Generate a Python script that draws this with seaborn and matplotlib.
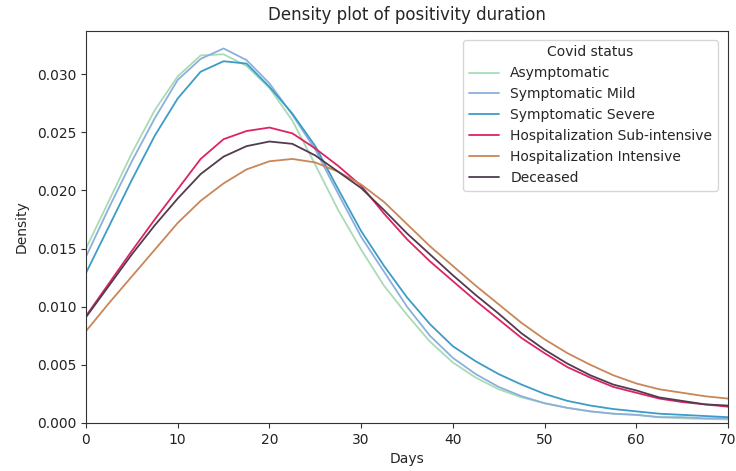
import numpy as np
import pandas as pd
import matplotlib
matplotlib.use("Agg")
import matplotlib.pyplot as plt
import seaborn as sns

days = [0, 2.5, 5, 7.5, 10, 12.5, 15, 17.5, 20, 22.5, 25, 27.5, 30, 32.5, 35,
        37.5, 40, 42.5, 45, 47.5, 50, 52.5, 55, 57.5, 60, 62.5, 65, 67.5, 70]

asymptomatic = [0.0150, 0.0191, 0.0232, 0.0269, 0.0298, 0.0316, 0.0317, 0.0307, 0.0288,
                0.0260, 0.0222, 0.0183, 0.0149, 0.0118, 0.0093, 0.0070, 0.0052, 0.0039,
                0.0029, 0.0022, 0.0017, 0.0013, 0.0010, 0.0008, 0.0007, 0.0005, 0.0004,
                0.00035, 0.0003]
symptomatic_mild = [0.0143, 0.0185, 0.0225, 0.0262, 0.0295, 0.0313, 0.0322, 0.0312, 0.0292,
                    0.0265, 0.0235, 0.0197, 0.0160, 0.0130, 0.0100, 0.0075, 0.0056, 0.0042,
                    0.0031, 0.0023, 0.0017, 0.0013, 0.0010, 0.0008, 0.0007, 0.0005, 0.0005,
                    0.0004, 0.0004]
symptomatic_severe = [0.0129, 0.0169, 0.0209, 0.0247, 0.0279, 0.0302, 0.0311, 0.0309, 0.0289,
                      0.0266, 0.0238, 0.0201, 0.0165, 0.0135, 0.0108, 0.0085, 0.0066, 0.0053,
                      0.0042, 0.0033, 0.0025, 0.0019, 0.0015, 0.0012, 0.0010, 0.0008, 0.0007,
                      0.0006, 0.0005]
hosp_sub_intensive = [0.0092, 0.0120, 0.0148, 0.0175, 0.0201, 0.0227, 0.0244, 0.0251, 0.0254,
                      0.0249, 0.0236, 0.0221, 0.0204, 0.0180, 0.0158, 0.0139, 0.0122, 0.0105,
                      0.0089, 0.0073, 0.0060, 0.0048, 0.0039, 0.0031, 0.0026, 0.0021, 0.0018,
                      0.0016, 0.0014]
hosp_intensive = [0.0079, 0.0103, 0.0126, 0.0149, 0.0172, 0.0191, 0.0206, 0.0218, 0.0225,
                  0.0227, 0.0224, 0.0216, 0.0205, 0.0190, 0.0171, 0.0152, 0.0135, 0.0118,
                  0.0102, 0.0086, 0.0072, 0.0060, 0.0050, 0.0041, 0.0034, 0.0029, 0.0026,
                  0.0023, 0.0021]
deceased = [0.0091, 0.0118, 0.0145, 0.0170, 0.0193, 0.0214, 0.0229, 0.0238, 0.0242,
            0.0240, 0.0230, 0.0216, 0.0202, 0.0183, 0.0163, 0.0145, 0.0127, 0.0110,
            0.0094, 0.0077, 0.0063, 0.0051, 0.0041, 0.0033, 0.0028, 0.0022, 0.0019,
            0.0016, 0.0015]

categories = ["Asymptomatic", "Symptomatic Mild", "Symptomatic Severe",
              "Hospitalization Sub-intensive", "Hospitalization Intensive", "Deceased"]
series = [asymptomatic, symptomatic_mild, symptomatic_severe,
          hosp_sub_intensive, hosp_intensive, deceased]
colors = ["#a9dbb5", "#8cafdc", "#3d9cc7", "#dd2462", "#c98658", "#523b50"]

rows = []
for cat, vals in zip(categories, series):
    for d, v in zip(days, vals):
        rows.append({"Days": d, "Density": v, "Covid status": cat})
df = pd.DataFrame(rows)

sns.set_style("ticks")
plt.rcParams["font.family"] = ["DejaVu Sans"]

fig = plt.figure(figsize=(7.36, 4.71), dpi=100)
ax = fig.add_axes([86/736, 1 - 423/471, (728 - 86)/736, (423 - 31)/471])

sns.lineplot(data=df, x="Days", y="Density", hue="Covid status",
             hue_order=categories, palette=dict(zip(categories, colors)),
             linewidth=1.3, ax=ax)

ax.set_xlim(0, 70)
ax.set_ylim(0, 0.0337)
ax.set_yticks([0.0, 0.005, 0.010, 0.015, 0.020, 0.025, 0.030])
ax.set_yticklabels(["0.000", "0.005", "0.010", "0.015", "0.020", "0.025", "0.030"])
ax.set_xticks([0, 10, 20, 30, 40, 50, 60, 70])
for s in ax.spines.values():
    s.set_visible(True)
    s.set_color("#333333")
ax.tick_params(labelsize=10, colors="#333333", labelcolor="#222222")
ax.set_title("Density plot of positivity duration", fontsize=12, pad=8)
ax.set_xlabel("Days", fontsize=10)
ax.set_ylabel("Density", fontsize=10, labelpad=6)

leg = ax.legend(title="Covid status", loc="upper right", fontsize=10,
                title_fontsize=10, frameon=True, bbox_to_anchor=(0.995, 0.995),
                handlelength=2.2)
leg.get_frame().set_edgecolor("#cccccc")

fig.savefig("out.png", dpi=100)
